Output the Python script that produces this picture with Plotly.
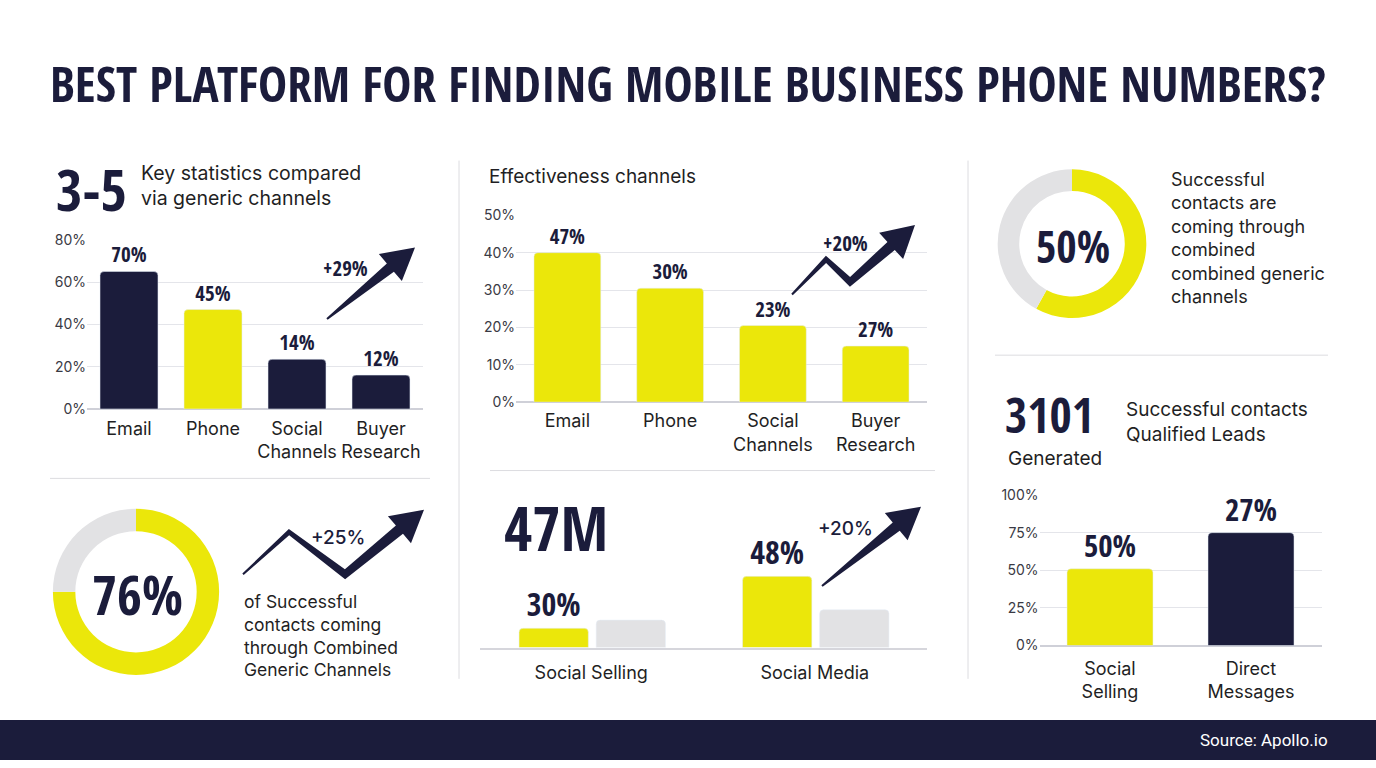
import math
import plotly.graph_objects as go

W, H = 1376, 768
NAVY = "#1b1c3b"
YELLOW = "#ebe70a"
GREY = "#e2e2e4"
GRID = "#e4e5ea"
TXT = "#1f1f24"
COND = "Open Sans Condensed, Roboto Condensed, sans-serif"
BODY = "Inter"

# ---------------- data ----------------
ch1_categories = ["Email", "Phone", "Social<br>Channels", "Buyer<br>Research"]
ch1_values = [65, 47, 23.5, 16]
ch1_labels = ["70%", "45%", "14%", "12%"]

ch2_categories = ["Email", "Phone", "Social<br>Channels", "Buyer<br>Research"]
ch2_values = [40, 30.5, 20.5, 15]
ch2_labels = ["47%", "30%", "23%", "27%"]

ch3_categories = ["Social<br>Selling", "Direct<br>Messages"]
ch3_values = [51, 75]
ch3_labels = ["50%", "27%"]

ch4_categories = ["Social Selling", "Social Media"]
ch4_primary = [13, 48]
ch4_secondary = [18.5, 25.5]
ch4_labels = ["30%", "48%"]

donut_top_values = [58, 42]
donut_top_label = "50%"
donut_bottom_values = [75, 25]
donut_bottom_label = "76%"

title_text = "BEST PLATFORM FOR FINDING MOBILE BUSINESS PHONE NUMBERS?"


def px(x):
    return x / W


def py(y):
    return 1 - y / H


fig = go.Figure()

# ---------------- bar charts ----------------
fig.add_trace(go.Bar(
    x=ch1_categories, y=ch1_values, text=ch1_labels, textposition="outside",
    marker=dict(color=[NAVY, YELLOW, NAVY, NAVY], cornerradius=4),
    width=0.69, cliponaxis=False, xaxis="x", yaxis="y",
    textfont=dict(family=COND, size=21, color=NAVY, weight="bold"),
))
fig.add_trace(go.Bar(
    x=ch2_categories, y=ch2_values, text=ch2_labels, textposition="outside",
    marker=dict(color=YELLOW, cornerradius=4),
    width=0.65, cliponaxis=False, xaxis="x2", yaxis="y2",
    textfont=dict(family=COND, size=21, color=NAVY, weight="bold"),
))
fig.add_trace(go.Bar(
    x=ch3_categories, y=ch3_values, text=ch3_labels, textposition="outside",
    marker=dict(color=[YELLOW, NAVY], cornerradius=4),
    width=0.61, cliponaxis=False, xaxis="x3", yaxis="y3",
    textfont=dict(family=COND, size=31, color=NAVY, weight="bold"),
))
fig.add_trace(go.Bar(
    x=ch4_categories, y=ch4_primary, text=ch4_labels, textposition="outside",
    marker=dict(color=YELLOW, cornerradius=4),
    width=0.31, offset=-0.323, cliponaxis=False, xaxis="x4", yaxis="y4",
    textfont=dict(family=COND, size=32, color=NAVY, weight="bold"),
))
fig.add_trace(go.Bar(
    x=ch4_categories, y=ch4_secondary,
    marker=dict(color=GREY, cornerradius=4),
    width=0.31, offset=0.022, cliponaxis=False, xaxis="x4", yaxis="y4",
))

# ---------------- donuts ----------------
fig.add_trace(go.Pie(
    values=donut_top_values, hole=0.71, sort=False, direction="clockwise", rotation=0,
    marker=dict(colors=[YELLOW, GREY], line=dict(width=0)), textinfo="none", hoverinfo="skip",
    domain=dict(x=[px(996), px(1148)], y=[py(316), py(164)]),
))
fig.add_trace(go.Pie(
    values=donut_bottom_values, hole=0.73, sort=False, direction="clockwise", rotation=0,
    marker=dict(colors=[YELLOW, GREY], line=dict(width=0)), textinfo="none", hoverinfo="skip",
    domain=dict(x=[px(51), px(221)], y=[py(681), py(511)]),
))

tickfont = dict(family=BODY, size=14, color="#3a3a44")
catfont = dict(family=BODY, size=18, color=TXT)

common_y = dict(showgrid=True, gridcolor=GRID, gridwidth=1, zeroline=True,
                zerolinecolor="#cfd0d8", zerolinewidth=1.5, ticksuffix="%",
                tickfont=tickfont, showline=False, ticks="", fixedrange=True)
common_x = dict(showgrid=False, zeroline=False, showline=False, ticks="",
                tickfont=catfont, fixedrange=True)

fig.update_layout(
    width=W, height=H, margin=dict(l=0, r=0, t=0, b=0),
    paper_bgcolor="white", plot_bgcolor="rgba(0,0,0,0)",
    showlegend=False, barmode="overlay",
    xaxis=dict(domain=[px(87), px(423)], anchor="y", ticklabelstandoff=7, **common_x),
    yaxis=dict(domain=[py(409), py(236)], anchor="x", range=[0, 80], dtick=20, **common_y),
    xaxis2=dict(domain=[px(516), px(927)], anchor="y2", ticklabelstandoff=6, **common_x),
    yaxis2=dict(domain=[py(402), py(211)], anchor="x2", range=[0, 50], dtick=10, **common_y),
    xaxis3=dict(domain=[px(1039.5), px(1321.5)], anchor="y3", ticklabelstandoff=10, **common_x),
    yaxis3=dict(domain=[py(651), py(497)], anchor="x3", range=[0, 100], dtick=25, **common_y),
    xaxis4=dict(domain=[px(479.5), px(926.5)], anchor="y4", showgrid=False, zeroline=False,
                showline=True, linecolor="#d6d6dc", linewidth=1.5, ticks="",
                tickfont=catfont, fixedrange=True, ticklabelstandoff=8),
    yaxis4=dict(domain=[py(653), py(562)], anchor="x4", range=[0, 60], visible=False,
                fixedrange=True),
)

# ---------------- decorative shapes ----------------
shapes = []
# footer band
shapes.append(dict(type="rect", xref="paper", yref="paper", x0=0, x1=1, y0=0, y1=py(727),
                   fillcolor=NAVY, line=dict(width=0), layer="below"))
# separators
for (x0, y0, x1, y1) in [(459, 155, 459, 685), (968, 155, 968, 685),
                         (50, 480, 430, 480), (490, 472, 935, 472), (995, 354, 1328, 354)]:
    shapes.append(dict(type="line", xref="paper", yref="paper", x0=px(x0), y0=py(y0),
                       x1=px(x1), y1=py(y1), line=dict(color="#dcdce0", width=1), layer="below"))


def arrow_path(points, w_tail=2, w_body=11, head_len=32, head_w=36):
    tip = points[-1]
    prev = points[-2]
    dx, dy = tip[0] - prev[0], tip[1] - prev[1]
    L = math.hypot(dx, dy)
    ux, uy = dx / L, dy / L
    base = (tip[0] - ux * head_len, tip[1] - uy * head_len)
    pts = list(points[:-1]) + [base]
    cum = [0.0]
    for i in range(1, len(pts)):
        cum.append(cum[-1] + math.hypot(pts[i][0] - pts[i - 1][0], pts[i][1] - pts[i - 1][1]))
    total = cum[-1]
    segn = []
    for i in range(len(pts) - 1):
        sx, sy = pts[i + 1][0] - pts[i][0], pts[i + 1][1] - pts[i][1]
        sl = math.hypot(sx, sy)
        segn.append((-sy / sl, sx / sl))
    left, right = [], []
    for i, p in enumerate(pts):
        if i == 0:
            n = segn[0]
            f = 1
        elif i == len(pts) - 1:
            n = segn[-1]
            f = 1
        else:
            a, b = segn[i - 1], segn[i]
            nx, ny = a[0] + b[0], a[1] + b[1]
            nl = math.hypot(nx, ny)
            n = (nx / nl, ny / nl)
            f = 1 / max(0.35, n[0] * a[0] + n[1] * a[1])
        w = (w_tail + (w_body - w_tail) * cum[i] / total) / 2 * f
        left.append((p[0] + n[0] * w, p[1] + n[1] * w))
        right.append((p[0] - n[0] * w, p[1] - n[1] * w))
    nx, ny = -uy, ux
    hl = (base[0] + nx * head_w / 2, base[1] + ny * head_w / 2)
    hr = (base[0] - nx * head_w / 2, base[1] - ny * head_w / 2)
    poly = left + [hl, tip, hr] + right[::-1]
    return "M " + " L ".join(f"{px(x):.5f},{py(y):.5f}" for x, y in poly) + " Z"


arrows = [
    [(327, 317), (415, 244)],
    [(792, 292), (826, 256), (850, 279), (915, 221)],
    [(243, 578), (289, 535), (345, 578), (424, 512)],
    [(822, 590), (921, 509)],
]
for pts in arrows:
    shapes.append(dict(type="path", xref="paper", yref="paper", path=arrow_path(pts),
                       fillcolor=NAVY, line=dict(width=0)))

fig.update_layout(shapes=shapes)

# ---------------- texts ----------------
ann = []


def add_text(text, x, y, size, family=BODY, color=TXT, xanchor="left", yanchor="middle",
             weight="normal", align="left"):
    ann.append(dict(text=text, x=px(x), y=py(y), xref="paper", yref="paper", showarrow=False,
                    xanchor=xanchor, yanchor=yanchor, align=align,
                    font=dict(family=family, size=size, color=color, weight=weight)))


add_text(title_text, 688, 76, 49, family=COND, color=NAVY, xanchor="center", weight="bold")
add_text("3-5", 54, 184, 57, family=COND, color=NAVY, weight="bold")
add_text("Key statistics compared<br>via generic channels", 139, 181, 19.5)
add_text("Effectiveness channels", 487, 171, 19)
add_text("+29%", 345, 265, 21, family=COND, color=NAVY, xanchor="center", weight="bold")
add_text("+20%", 845, 239, 21, family=COND, color=NAVY, xanchor="center", weight="bold")
add_text("+25%", 338, 540, 19, family=BODY, color=NAVY, xanchor="center", weight=500)
add_text("+20%", 845, 531, 19, family=BODY, color=NAVY, xanchor="center", weight=500)
add_text(donut_top_label, 1073, 242, 44, family=COND, color=NAVY, xanchor="center", weight="bold")
add_text(donut_bottom_label, 137, 598, 54, family=COND, color=NAVY, xanchor="center", weight="bold")
add_text("Successful<br>contacts are<br>coming through<br>combined<br>combined generic<br>channels",
         1169, 234, 18)
add_text("of Successful<br>contacts coming<br>through Combined<br>Generic Channels", 242, 641, 17.5)
add_text("47M", 502, 530, 61, family=COND, color=NAVY, weight="bold")
add_text("3101", 1003, 415, 48, family=COND, color=NAVY, weight="bold")
add_text("Generated", 1006, 460, 19)
add_text("Successful contacts<br>Qualified Leads", 1124, 422, 19)
add_text("Source: Apollo.io", 1330, 748, 17, color="white", xanchor="right", family="Roboto")

fig.update_layout(annotations=ann)

fig.write_html("out.html")
